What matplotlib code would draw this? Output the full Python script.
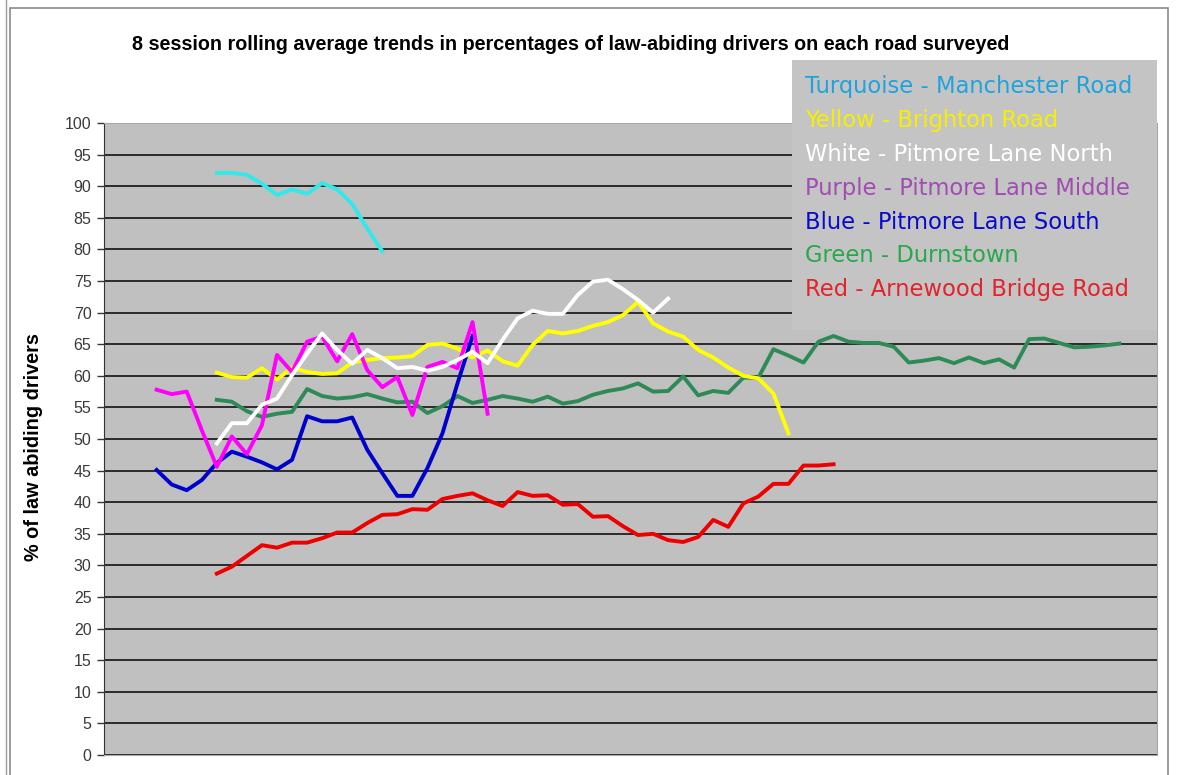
import numpy as np
import matplotlib
matplotlib.use("Agg")
import matplotlib.pyplot as plt
from matplotlib.patches import Rectangle

# category positions (sessions), 70 slots on the x axis, no labels
n_slots = 70

# series values, each with the slot where it starts
manchester_start = 7
manchester = [92.1, 92.1, 91.8, 90.4, 88.6, 89.5, 88.8, 90.5, 89.5, 87.2, 83.3, 79.7]

brighton_start = 7
brighton = [60.5, 59.8, 59.7, 61.2, 59.4, 61.3, 60.6, 60.3, 60.4, 62.1, 62.5, 62.8, 62.9,
            63.1, 64.9, 65.1, 64.3, 62.9, 64.0, 62.3, 61.6, 64.9, 67.1, 66.7, 67.1, 67.9,
            68.5, 69.6, 71.7, 68.3, 67.0, 66.2, 64.1, 62.9, 61.3, 60.0, 59.6, 57.2, 50.9]

pit_north_start = 7
pit_north = [49.3, 52.5, 52.5, 55.4, 56.4, 60.1, 63.5, 66.7, 64.1, 61.9, 64.1, 62.8, 61.2,
             61.4, 60.8, 61.4, 62.5, 63.8, 62.0, 65.7, 69.1, 70.3, 69.8, 69.8, 72.8, 74.9,
             75.2, 73.7, 72.0, 70.0, 72.2]

pit_middle_start = 3
pit_middle = [57.8, 57.1, 57.5, 51.4, 45.6, 50.4, 47.6, 52.2, 63.3, 60.6, 65.4, 66.2,
              62.3, 66.6, 60.9, 58.2, 59.8, 53.8, 61.4, 62.2, 61.2, 68.5, 54.0]

pit_south_start = 3
pit_south = [45.1, 42.8, 41.9, 43.5, 46.2, 48.0, 47.2, 46.3, 45.2, 46.7, 53.6, 52.8,
             52.8, 53.4, 48.3, 44.6, 41.0, 41.0, 45.4, 50.9, 58.8, 66.3]

durnstown_start = 7
durnstown = [56.2, 55.9, 54.4, 53.5, 54.0, 54.3, 57.9, 56.8, 56.4, 56.6, 57.1, 56.4, 55.8,
             55.9, 54.1, 55.2, 56.8, 55.7, 56.2, 56.8, 56.4, 55.9, 56.7, 55.6, 56.0, 57.0,
             57.6, 58.0, 58.8, 57.5, 57.6, 59.9, 56.9, 57.6, 57.3, 59.7, 59.7, 64.2, 63.2,
             62.1, 65.4, 66.3, 65.4, 65.2, 65.2, 64.6, 62.1, 62.4, 62.8, 62.0, 62.9, 62.0,
             62.6, 61.3, 65.8, 65.9, 65.2, 64.5, 64.6, 64.8, 65.1]

arnewood_start = 7
arnewood = [28.7, 29.8, 31.5, 33.2, 32.8, 33.6, 33.6, 34.3, 35.2, 35.2, 36.7, 38.0, 38.1,
            38.9, 38.8, 40.5, 41.0, 41.4, 40.3, 39.4, 41.6, 41.0, 41.1, 39.6, 39.7, 37.7,
            37.8, 36.2, 34.8, 35.0, 34.0, 33.7, 34.5, 37.2, 36.1, 39.8, 40.9, 42.9, 42.9,
            45.8, 45.8, 46.0]

y_ticks = list(range(0, 101, 5))

legend_lines = [("Turquoise - Manchester Road", "#1fa3de"),
                ("Yellow - Brighton Road", "#f6f000"),
                ("White - Pitmore Lane North", "#ffffff"),
                ("Purple - Pitmore Lane Middle", "#a04db2"),
                ("Blue - Pitmore Lane South", "#0a0acc"),
                ("Green - Durnstown", "#27a84a"),
                ("Red - Arnewood Bridge Road", "#e3232b")]

series = [(durnstown_start, durnstown, "#2e8b57"),
          (arnewood_start, arnewood, "#ee0000"),
          (brighton_start, brighton, "#ffff00"),
          (pit_south_start, pit_south, "#0000cc"),
          (pit_middle_start, pit_middle, "#ff00ff"),
          (pit_north_start, pit_north, "#ffffff"),
          (manchester_start, manchester, "#33e8ea")]

W, H = 1178, 775
fig = plt.figure(figsize=(W / 100, H / 100), dpi=100)
fig.patch.set_facecolor("white")

# outer chart frame (Excel chart border)
fig.add_artist(Rectangle((10 / W, -0.05), 1158 / W, 1.05 - 8 / H, transform=fig.transFigure,
                         fill=False, edgecolor="#8a8a8a", lw=1.2, zorder=0))
fig.add_artist(plt.Line2D([6 / W, 6 / W], [0, 1], transform=fig.transFigure, color="#9a9a9a", lw=1))

ax = fig.add_axes([104 / W, 20 / H, 1053 / W, 632 / H])
ax.set_facecolor("#c0c0c0")

for start, vals, col in series:
    x = np.arange(start, start + len(vals))
    ax.plot(x, vals, color=col, lw=2.8, solid_joinstyle="round", zorder=3)

ax.set_xlim(-0.5, n_slots - 0.5)
ax.set_ylim(0, 100)
ax.set_yticks(y_ticks)
ax.set_yticklabels([str(t) for t in y_ticks], fontsize=11.5, color="#3a3a3a", family="Liberation Sans")
ax.set_xticks([])
ax.tick_params(axis="y", length=5, width=1, color="#333333", pad=4)
ax.yaxis.grid(True, color="#2a2a2a", lw=1.4)
ax.set_axisbelow(True)
for side in ["top", "right"]:
    ax.spines[side].set_color("#a8a8a8")
ax.spines["bottom"].set_color("#a8a8a8")
ax.spines["left"].set_color("#333333")

ax.set_ylabel("% of law abiding drivers", fontsize=14.3, fontweight="bold",
              family="Liberation Sans", color="black")
ax.yaxis.set_label_coords(-0.058, 0.487)

fig.text(571 / W, 1 - 45 / H,
         "8 session rolling average trends in percentages of law-abiding drivers on each road surveyed",
         ha="center", va="center", fontsize=14.2, fontweight="bold", family="Liberation Sans")

# legend box drawn as a grey panel with coloured text
fig.add_artist(Rectangle((792 / W, 1 - 330 / H), 365 / W, 270 / H, transform=fig.transFigure,
                         facecolor="#c4c4c4", edgecolor="none", zorder=5))
for i, (txt, col) in enumerate(legend_lines):
    fig.text(805 / W, 1 - (87 + i * 33.8) / H, txt, color=col, fontsize=16.3,
             family="DejaVu Sans", ha="left", va="center", zorder=6)

fig.savefig("out.png", dpi=100)
